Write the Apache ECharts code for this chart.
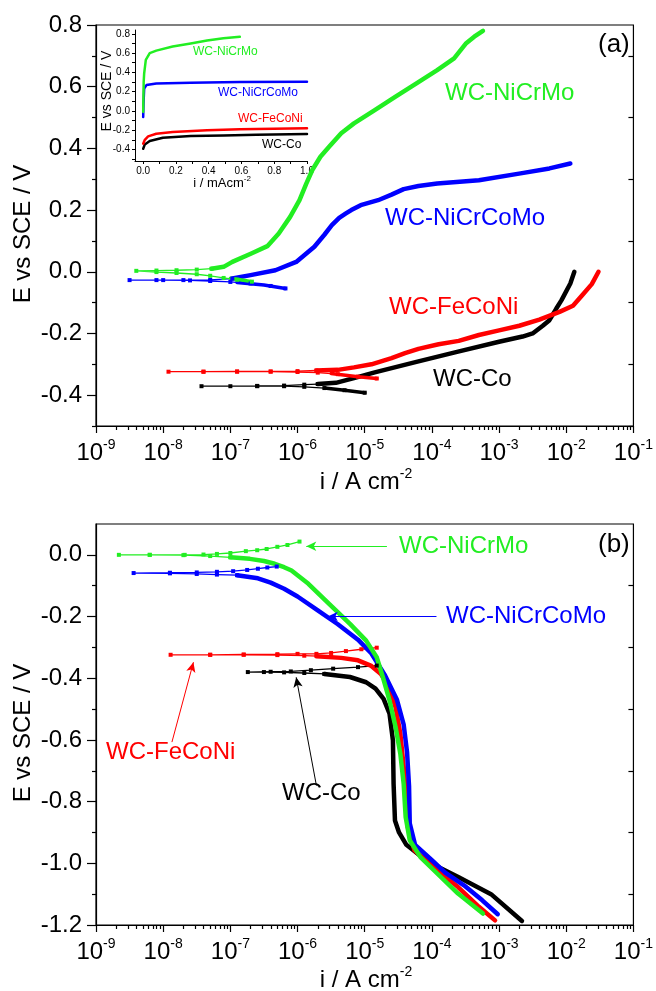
<!DOCTYPE html>
<html><head><meta charset="utf-8">
<script src="https://cdn.jsdelivr.net/npm/echarts@6/dist/echarts.min.js"></script>
<style>html,body{margin:0;padding:0;background:#fff}#c{width:656px;height:991px}</style>
</head><body><div id="c"></div>
<script>
const FF = '"Liberation Sans", Arial, Helvetica, sans-serif';
const GREEN = '#22EE22', BLUE = '#0000FF', RED = '#FF0000', BLACK = '#000000';

// ---------- Panel (a): [i / A cm-2, E vs SCE / V] ----------
const aNiCrMoTail = [[2.09e-7,-0.032],[1.26e-7,-0.026],[7.94e-8,-0.020],[5.01e-8,-0.013],[3.16e-8,-0.008],[1.58e-8,-0.004],[7.94e-9,-0.001],[3.98e-9,0.003],[7.94e-9,0.004],[1.58e-8,0.005],[3.16e-8,0.007],[5.25e-8,0.010]];
const aNiCrMoCath = [[1.0e-7,-0.021],[1.41e-7,-0.026],[2.09e-7,-0.032]];
const aNiCrMoAnod = [[5.25e-8,0.010],[7.94e-8,0.016],[1.07e-7,0.032],[2.09e-7,0.060],[3.55e-7,0.083],[5.25e-7,0.124],[7.76e-7,0.178],[1.07e-6,0.232],[1.35e-6,0.286],[1.66e-6,0.330],[2.19e-6,0.373],[2.95e-6,0.405],[4.47e-6,0.449],[6.92e-6,0.481],[1.41e-5,0.524],[2.88e-5,0.568],[5.89e-5,0.611],[1.20e-4,0.654],[2.14e-4,0.692],[3.24e-4,0.741],[4.27e-4,0.762],[5.75e-4,0.781]];

const aNiCrCoMoTail = [[6.61e-7,-0.054],[3.98e-7,-0.046],[2.0e-7,-0.038],[1.0e-7,-0.033],[5.01e-8,-0.030],[2.51e-8,-0.028],[1.0e-8,-0.027],[3.16e-9,-0.027],[7.94e-9,-0.027],[2.0e-8,-0.027],[5.01e-8,-0.026],[1.07e-7,-0.022]];
const aNiCrCoMoCath = [[1.26e-7,-0.035],[3.16e-7,-0.043],[6.61e-7,-0.054]];
const aNiCrCoMoAnod = [[1.07e-7,-0.022],[2.0e-7,-0.011],[4.68e-7,0.005],[9.55e-7,0.032],[1.78e-6,0.081],[2.51e-6,0.120],[3.24e-6,0.151],[4.17e-6,0.175],[5.25e-6,0.189],[6.31e-6,0.200],[8.71e-6,0.216],[1.58e-5,0.232],[2.51e-5,0.250],[3.80e-5,0.268],[6.31e-5,0.278],[1.20e-4,0.286],[5.01e-4,0.297],[2.09e-3,0.319],[5.62e-3,0.335],[1.15e-2,0.351]];

const aFeCoNiTail = [[1.51e-5,-0.346],[7.94e-6,-0.340],[3.98e-6,-0.332],[2.0e-6,-0.327],[1.0e-6,-0.325],[3.98e-7,-0.324],[1.26e-7,-0.324],[3.98e-8,-0.324],[1.20e-8,-0.324],[3.98e-8,-0.324],[1.26e-7,-0.323],[3.98e-7,-0.323],[1.0e-6,-0.322],[1.91e-6,-0.320]];
const aFeCoNiCath = [[3.16e-6,-0.330],[7.94e-6,-0.340],[1.51e-5,-0.346]];
const aFeCoNiAnod = [[1.91e-6,-0.320],[3.98e-6,-0.318],[6.92e-6,-0.310],[1.26e-5,-0.300],[2.51e-5,-0.280],[3.98e-5,-0.264],[6.31e-5,-0.250],[1.26e-4,-0.235],[2.51e-4,-0.224],[5.01e-4,-0.205],[1.0e-3,-0.190],[2.0e-3,-0.175],[3.98e-3,-0.155],[7.94e-3,-0.130],[1.26e-2,-0.110],[1.74e-2,-0.075],[2.40e-2,-0.040],[3.02e-2,0.0]];

const aCoTail = [[1.0e-5,-0.392],[5.01e-6,-0.384],[2.51e-6,-0.377],[1.26e-6,-0.373],[6.31e-7,-0.371],[2.51e-7,-0.371],[1.0e-7,-0.371],[3.72e-8,-0.371],[2.51e-7,-0.370],[6.31e-7,-0.369],[1.26e-6,-0.366],[2.0e-6,-0.364]];
const aCoCath = [[2.51e-6,-0.377],[5.01e-6,-0.384],[1.0e-5,-0.392]];
const aCoAnod = [[2.0e-6,-0.364],[3.72e-6,-0.360],[6.92e-6,-0.345],[1.41e-5,-0.326],[5.89e-5,-0.292],[2.45e-4,-0.259],[1.0e-3,-0.227],[2.24e-3,-0.210],[3.16e-3,-0.200],[4.47e-3,-0.175],[5.62e-3,-0.157],[7.08e-3,-0.120],[8.51e-3,-0.092],[1.15e-2,-0.038],[1.32e-2,0.0]];

// ---------- Inset of (a): [i / mA cm-2, E vs SCE / V] ----------
const insNiCrMo = [[0,-0.01],[0.001,0.10],[0.003,0.30],[0.006,0.39],[0.016,0.53],[0.04,0.60],[0.08,0.626],[0.18,0.668],[0.29,0.70],[0.39,0.73],[0.49,0.755],[0.59,0.77]];
const insNiCrCoMo = [[0,-0.063],[0.002,0.077],[0.006,0.233],[0.02,0.268],[0.08,0.285],[0.29,0.292],[0.59,0.299],[1.0,0.303]];
const insFeCoNi = [[0,-0.34],[0.01,-0.30],[0.03,-0.265],[0.08,-0.237],[0.18,-0.219],[0.39,-0.202],[0.59,-0.191],[1.0,-0.181]];
const insCo = [[0,-0.393],[0.01,-0.348],[0.04,-0.313],[0.12,-0.278],[0.29,-0.261],[0.49,-0.254],[0.69,-0.247],[1.0,-0.24]];

// ---------- Panel (b): [i / A cm-2, E vs SCE / V] ----------
const bNiCrMoTail = [[1.0e-7,-0.008],[5.01e-8,-0.004],[2.0e-8,-0.001],[6.31e-9,0.0],[2.19e-9,0.0],[6.31e-9,0.0],[2.09e-8,0.0],[3.98e-8,0.001],[6.31e-8,0.003],[1.0e-7,0.006],[1.70e-7,0.012],[2.51e-7,0.015],[3.47e-7,0.019],[5.01e-7,0.026],[7.08e-7,0.032],[1.07e-6,0.043]];
const bNiCrMoCath = [[1.0e-7,-0.008],[1.95e-7,-0.013],[3.16e-7,-0.020],[4.57e-7,-0.029],[6.31e-7,-0.040],[8.13e-7,-0.051],[1.45e-6,-0.094],[2.95e-6,-0.159],[6.03e-6,-0.224],[1.05e-5,-0.278],[1.51e-5,-0.332],[1.86e-5,-0.396],[2.34e-5,-0.472],[2.88e-5,-0.558],[3.39e-5,-0.645],[3.80e-5,-0.742],[4.07e-5,-0.850],[4.68e-5,-0.925],[6.76e-5,-0.980],[1.20e-4,-1.033],[2.45e-4,-1.098],[5.75e-4,-1.163]];

const bNiCrCoMoTail = [[1.26e-7,-0.066],[6.31e-8,-0.064],[3.16e-8,-0.062],[1.26e-8,-0.060],[3.63e-9,-0.059],[1.26e-8,-0.058],[3.16e-8,-0.057],[6.31e-8,-0.055],[1.10e-7,-0.053],[1.78e-7,-0.049],[2.57e-7,-0.045],[3.55e-7,-0.041],[4.90e-7,-0.038]];
const bNiCrCoMoCath = [[1.26e-7,-0.066],[2.57e-7,-0.076],[3.98e-7,-0.090],[6.31e-7,-0.110],[1.0e-6,-0.135],[2.0e-6,-0.180],[3.98e-6,-0.225],[7.94e-6,-0.275],[1.26e-5,-0.320],[2.0e-5,-0.390],[3.02e-5,-0.470],[3.80e-5,-0.550],[4.27e-5,-0.640],[4.57e-5,-0.750],[4.68e-5,-0.870],[5.62e-5,-0.940],[1.0e-4,-0.990],[1.58e-4,-1.030],[3.16e-4,-1.075],[5.62e-4,-1.120],[9.55e-4,-1.165]];

const bFeCoNiTail = [[3.16e-6,-0.330],[1.26e-6,-0.327],[5.01e-7,-0.325],[1.58e-7,-0.324],[5.01e-8,-0.324],[1.29e-8,-0.324],[5.01e-8,-0.324],[1.58e-7,-0.323],[5.01e-7,-0.322],[1.0e-6,-0.321],[1.91e-6,-0.321],[3.16e-6,-0.318],[5.25e-6,-0.312],[8.91e-6,-0.306],[1.51e-5,-0.301]];
const bFeCoNiCath = [[1.91e-6,-0.329],[4.47e-6,-0.334],[7.94e-6,-0.342],[1.23e-5,-0.359],[1.74e-5,-0.386],[2.34e-5,-0.429],[2.88e-5,-0.494],[3.39e-5,-0.580],[3.80e-5,-0.688],[4.17e-5,-0.796],[4.37e-5,-0.882],[5.50e-5,-0.958],[1.05e-4,-1.012],[2.45e-4,-1.077],[5.01e-4,-1.141],[8.71e-4,-1.185]];

const bCoTail = [[2.51e-6,-0.386],[1.26e-6,-0.383],[6.31e-7,-0.381],[3.16e-7,-0.380],[1.82e-7,-0.380],[3.98e-7,-0.379],[7.94e-7,-0.378],[1.58e-6,-0.374],[3.39e-6,-0.369],[7.94e-6,-0.364],[1.51e-5,-0.359]];
const bCoCath = [[2.51e-6,-0.386],[6.03e-6,-0.396],[1.05e-5,-0.413],[1.45e-5,-0.434],[1.91e-5,-0.467],[2.34e-5,-0.515],[2.63e-5,-0.602],[2.69e-5,-0.742],[2.82e-5,-0.861],[3.24e-5,-0.900],[4.17e-5,-0.940],[8.71e-5,-0.995],[2.51e-4,-1.045],[7.59e-4,-1.100],[2.19e-3,-1.187]];

// Annotation arrows in panel (b): [from, to] in data coordinates
const bArrowNiCrMo = [[2.14e-5, 0.028], [1.35e-6, 0.028]];
const bArrowNiCrCoMo = [[1.17e-4, -0.200], [2.82e-6, -0.200]];
const bArrowFeCoNi = [[1.35e-8, -0.607], [2.82e-8, -0.348]];
const bArrowCo = [[1.91e-6, -0.748], [9.55e-7, -0.397]];

// Tick values
const aYTicks = [-0.4, -0.2, 0.0, 0.2, 0.4, 0.6, 0.8];
const aYMinor = [-0.5, -0.3, -0.1, 0.1, 0.3, 0.5, 0.7];
const bYTicks = [-1.2, -1.0, -0.8, -0.6, -0.4, -0.2, 0.0];
const bYMinor = [-1.1, -0.9, -0.7, -0.5, -0.3, -0.1];
const insYTicks = [-0.4, -0.2, 0.0, 0.2, 0.4, 0.6, 0.8];
const insYAll = [-0.5,-0.4,-0.3,-0.2,-0.1,0.0,0.1,0.2,0.3,0.4,0.5,0.6,0.7,0.8];
const insXTicks = [0.0, 0.2, 0.4, 0.6, 0.8, 1.0];
const insXAll = [0.0,0.1,0.2,0.3,0.4,0.5,0.6,0.7,0.8,0.9,1.0];

// minor log ticks (2..9 x 10^n) expressed in log10 space for the overlay axis
const logMinor = [];
for (let n = -9; n < -1; n++) for (let k = 2; k <= 9; k++) logMinor.push(n + Math.log10(k));

const fmt1 = v => (Math.abs(v) < 1e-9 ? 0 : v).toFixed(1);
const supRich = {
  b: { fontSize: 24, lineHeight: 30, fontFamily: FF, color: '#000' },
  s: { fontSize: 14, lineHeight: 14, verticalAlign: 'top', fontFamily: FF, color: '#000' }
};
const lineBlack = { color: '#000', width: 1.2 };

function logXAxis(grid) {
  return {
    gridIndex: grid, type: 'log', logBase: 10, min: 1e-9, max: 1e-1, splitNumber: 8, position: 'bottom',
    axisLine: { show: true, onZero: false, lineStyle: lineBlack },
    axisTick: { show: true, inside: false, length: 7, lineStyle: lineBlack },
    axisLabel: {
      show: true, margin: 12, interval: 0, showMinLabel: true, showMaxLabel: true, hideOverlap: false,
      formatter: v => '{b|10}{s|' + Math.round(Math.log10(v)) + '}', rich: supRich
    },
    splitLine: { show: false }, minorTick: { show: false }
  };
}
function minorXAxis(grid) {
  return {
    gridIndex: grid, type: 'value', min: -9, max: -1, position: 'bottom',
    axisLine: { show: false, onZero: false },
    axisTick: { show: true, inside: false, length: 4, customValues: logMinor, lineStyle: lineBlack },
    axisLabel: { show: false }, splitLine: { show: false }
  };
}
function mainYAxis(grid, min, max, ticks) {
  return {
    gridIndex: grid, type: 'value', min: min, max: max, position: 'left',
    axisLine: { show: true, onZero: false, lineStyle: lineBlack },
    axisTick: { show: true, inside: false, length: 9, customValues: ticks, lineStyle: lineBlack },
    axisLabel: { show: true, customValues: ticks, formatter: fmt1, fontSize: 24, fontFamily: FF, color: '#000', margin: 14 },
    splitLine: { show: false }
  };
}
function minorYAxis(grid, min, max, ticks, pos, inside, len) {
  return {
    gridIndex: grid, type: 'value', min: min, max: max, position: pos || 'left',
    axisLine: { show: false, onZero: false },
    axisTick: { show: true, inside: !!inside, length: len || 4, customValues: ticks, lineStyle: lineBlack },
    axisLabel: { show: false }, splitLine: { show: false }
  };
}

function tail(data, color, xi, yi) {
  return { type: 'line', xAxisIndex: xi, yAxisIndex: yi, data: data, symbol: 'rect', symbolSize: 4,
    showSymbol: true, showAllSymbol: true, lineStyle: { color: color, width: 1.3 }, itemStyle: { color: color },
    animation: false, silent: true };
}
function thick(data, color, xi, yi, w) {
  return { type: 'line', xAxisIndex: xi, yAxisIndex: yi, data: data, symbol: 'none', showSymbol: false,
    lineStyle: { color: color, width: w || 4.5, cap: 'round', join: 'round' },
    animation: false, silent: true };
}
function arrow(seg, color) {
  return { type: 'line', xAxisIndex: 3, yAxisIndex: 3, data: [], animation: false, silent: true,
    markLine: { silent: true, animation: false, symbol: ['none', 'arrow'], symbolSize: [7, 10],
      label: { show: false }, lineStyle: { color: color, width: 1, type: 'solid' },
      data: [[{ coord: seg[0] }, { coord: seg[1] }]] } };
}

function txt(x, y, s, color, size, align, rot) {
  const el = { type: 'text', x: x, y: y, z: 100, silent: true,
    style: { text: s, fill: color, font: size + 'px ' + FF, textAlign: align || 'left', textVerticalAlign: 'middle' } };
  if (rot) el.rotation = rot;
  return el;
}
function supTxt(x, y, a, s, size, ssize) {
  return { type: 'text', x: x, y: y, z: 100, silent: true,
    style: { text: '{a|' + a + '}{s|' + s + '}', textAlign: 'center', textVerticalAlign: 'middle',
      rich: { a: { fontSize: size, lineHeight: Math.round(size * 1.25), fontFamily: FF, fill: '#000', color: '#000' },
              s: { fontSize: ssize, lineHeight: ssize, verticalAlign: 'top', fontFamily: FF, fill: '#000', color: '#000' } } } };
}

const option = {
  animation: false,
  backgroundColor: '#fff',
  textStyle: { fontFamily: FF },
  grid: [
    { left: 96, top: 25, width: 541, height: 401, show: true, borderColor: '#000', borderWidth: 1.2, backgroundColor: 'transparent', containLabel: false },
    { left: 135, top: 30, width: 172, height: 131, show: false, containLabel: false },
    { left: 96, top: 524, width: 541, height: 401, show: true, borderColor: '#000', borderWidth: 1.2, backgroundColor: 'transparent', containLabel: false }
  ],
  xAxis: [
    logXAxis(0),
    minorXAxis(0),
    { gridIndex: 1, type: 'value', min: -0.05, max: 1.0, position: 'bottom',
      axisLine: { show: true, onZero: false, lineStyle: { color: '#000', width: 1 } },
      axisTick: { show: true, inside: false, length: 3, customValues: insXAll, lineStyle: { color: '#000', width: 1 } },
      axisLabel: { show: true, customValues: insXTicks, formatter: fmt1, fontSize: 10, fontFamily: FF, color: '#000', margin: 5 },
      splitLine: { show: false } },
    logXAxis(2),
    minorXAxis(2)
  ],
  yAxis: [
    mainYAxis(0, -0.5, 0.8, aYTicks),
    minorYAxis(0, -0.5, 0.8, aYMinor),
    { gridIndex: 1, type: 'value', min: -0.52, max: 0.84, position: 'left',
      axisLine: { show: true, onZero: false, lineStyle: { color: '#000', width: 1 } },
      axisTick: { show: true, inside: false, length: 3, customValues: insYAll, lineStyle: { color: '#000', width: 1 } },
      axisLabel: { show: true, customValues: insYTicks, formatter: fmt1, fontSize: 10, fontFamily: FF, color: '#000', margin: 5 },
      splitLine: { show: false } },
    mainYAxis(2, -1.2, 0.1, bYTicks),
    minorYAxis(2, -1.2, 0.1, bYMinor),
    minorYAxis(0, -0.5, 0.8, aYMinor, 'right', true, 5),
    minorYAxis(2, -1.2, 0.1, bYMinor, 'right', true, 5)
  ],
  series: [
    // panel (a)
    tail(aCoTail, BLACK, 0, 0), thick(aCoCath, BLACK, 0, 0, 3.5), thick(aCoAnod, BLACK, 0, 0),
    tail(aFeCoNiTail, RED, 0, 0), thick(aFeCoNiCath, RED, 0, 0, 3.5), thick(aFeCoNiAnod, RED, 0, 0),
    tail(aNiCrCoMoTail, BLUE, 0, 0), thick(aNiCrCoMoCath, BLUE, 0, 0, 3.5), thick(aNiCrCoMoAnod, BLUE, 0, 0),
    tail(aNiCrMoTail, GREEN, 0, 0), thick(aNiCrMoCath, GREEN, 0, 0, 3.5), thick(aNiCrMoAnod, GREEN, 0, 0),
    // inset
    thick(insCo, BLACK, 2, 2, 2.5), thick(insFeCoNi, RED, 2, 2, 2.5),
    thick(insNiCrCoMo, BLUE, 2, 2, 2.5), thick(insNiCrMo, GREEN, 2, 2, 2.5),
    // panel (b)
    tail(bCoTail, BLACK, 3, 3), thick(bCoCath, BLACK, 3, 3),
    tail(bFeCoNiTail, RED, 3, 3), thick(bFeCoNiCath, RED, 3, 3),
    tail(bNiCrCoMoTail, BLUE, 3, 3), thick(bNiCrCoMoCath, BLUE, 3, 3),
    tail(bNiCrMoTail, GREEN, 3, 3), thick(bNiCrMoCath, GREEN, 3, 3),
    arrow(bArrowNiCrMo, GREEN), arrow(bArrowNiCrCoMo, BLUE), arrow(bArrowFeCoNi, RED), arrow(bArrowCo, BLACK)
  ],
  graphic: [
    // axis titles
    txt(23, 234, 'E vs SCE / V', '#000', 24, 'center', Math.PI / 2),
    supTxt(366, 482, 'i / A cm', '-2', 24, 14),
    txt(23, 733, 'E vs SCE / V', '#000', 24, 'center', Math.PI / 2),
    supTxt(366, 980, 'i / A cm', '-2', 24, 14),
    txt(107, 91, 'E vs SCE / V', '#000', 14, 'center', Math.PI / 2),
    supTxt(222, 183, 'i / mAcm', '-2', 13, 8),
    // panel tags
    txt(598, 45, '(a)', '#000', 26),
    txt(598, 545, '(b)', '#000', 26),
    // labels (a)
    txt(445, 93, 'WC-NiCrMo', GREEN, 24),
    txt(385, 218, 'WC-NiCrCoMo', BLUE, 24),
    txt(389, 307, 'WC-FeCoNi', RED, 24),
    txt(433, 379, 'WC-Co', BLACK, 24),
    // labels inset
    txt(193, 52, 'WC-NiCrMo', GREEN, 12),
    txt(218, 93, 'WC-NiCrCoMo', BLUE, 12),
    txt(238, 119, 'WC-FeCoNi', RED, 12),
    txt(262, 145, 'WC-Co', BLACK, 12),
    // labels (b)
    txt(399, 546, 'WC-NiCrMo', GREEN, 24),
    txt(446, 616, 'WC-NiCrCoMo', BLUE, 24),
    txt(106, 752, 'WC-FeCoNi', RED, 24),
    txt(282, 793, 'WC-Co', BLACK, 24)
  ]
};

const chart = echarts.init(document.getElementById('c'), null, { renderer: 'canvas' });
chart.setOption(option);
</script></body></html>
